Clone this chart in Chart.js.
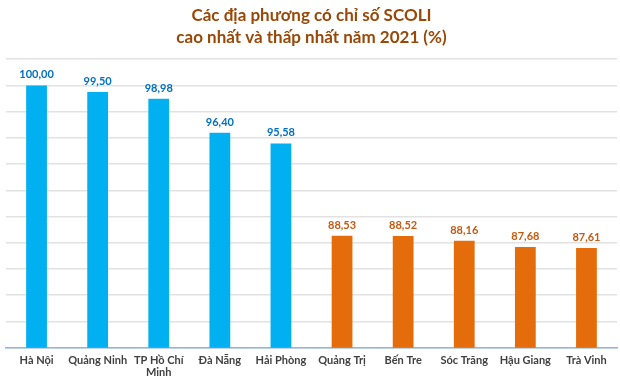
<!DOCTYPE html>
<html>
<head>
<meta charset="utf-8">
<script src="https://cdn.jsdelivr.net/npm/chart.js@4"></script>
<style>
  html, body { margin: 0; padding: 0; background: #ffffff; }
  #wrap { width: 620px; height: 385px; }
</style>
</head>
<body>
<div id="wrap"><canvas id="chart"></canvas></div>
<script>
const categories = [
  'Hà Nội', 'Quảng Ninh', ['TP Hồ Chí', 'Minh'], 'Đà Nẵng', 'Hải Phòng',
  'Quảng Trị', 'Bến Tre', 'Sóc Trăng', 'Hậu Giang', 'Trà Vinh'
];
const scoli = [100.00, 99.50, 98.98, 96.40, 95.58, 88.53, 88.52, 88.16, 87.68, 87.61];
const isTop = [true, true, true, true, true, false, false, false, false, false];

const BLUE = '#00b0f0';
const ORANGE = '#e46c0a';

// draws the value on top of each bar
const valueLabels = {
  id: 'valueLabels',
  afterDatasetsDraw(chart) {
    const ctx = chart.ctx;
    const meta = chart.getDatasetMeta(0);
    ctx.save();
    ctx.font = 'bold 11px Lato';
    ctx.textAlign = 'center';
    ctx.textBaseline = 'bottom';
    meta.data.forEach((bar, i) => {
      ctx.fillStyle = isTop[i] ? '#0070c0' : '#c55a11';
      ctx.fillText(scoli[i].toFixed(2).replace('.', ','), bar.x, bar.y - 5);
    });
    ctx.restore();
  }
};

new Chart(document.getElementById('chart'), {
  type: 'bar',
  plugins: [valueLabels],
  data: {
    labels: categories,
    datasets: [{
      data: scoli,
      backgroundColor: isTop.map(t => t ? BLUE : ORANGE),
      barPercentage: 0.34,
      categoryPercentage: 1,
    }],
  },
  options: {
    responsive: true,
    maintainAspectRatio: false,
    animation: false,
    layout: { padding: { left: 6, right: 3, top: 4, bottom: 0 } },
    plugins: {
      legend: { display: false },
      tooltip: { enabled: false },
      title: {
        display: true,
        text: ['Các địa phương có chỉ số SCOLI', 'cao nhất và thấp nhất năm 2021 (%)'],
        color: '#984807',
        font: { family: 'Lato', size: 17, weight: 'bold', lineHeight: 1.3 },
        padding: { top: 0, bottom: 11 },
      },
    },
    scales: {
      y: {
        min: 80,
        max: 102,
        ticks: { display: false, stepSize: 2 },
        grid: { color: '#e2e2e2', lineWidth: 1.5, drawTicks: false },
        border: { display: false },
      },
      x: {
        ticks: {
          color: '#404040',
          font: { family: 'Lato', size: 11, weight: 'bold', lineHeight: 1.15 },
          maxRotation: 0,
          autoSkip: false,
          padding: 6,
        },
        grid: { display: false, drawTicks: false },
        border: { color: '#8eb4e3', width: 1.5 },
      },
    },
  },
});
</script>
</body>
</html>
